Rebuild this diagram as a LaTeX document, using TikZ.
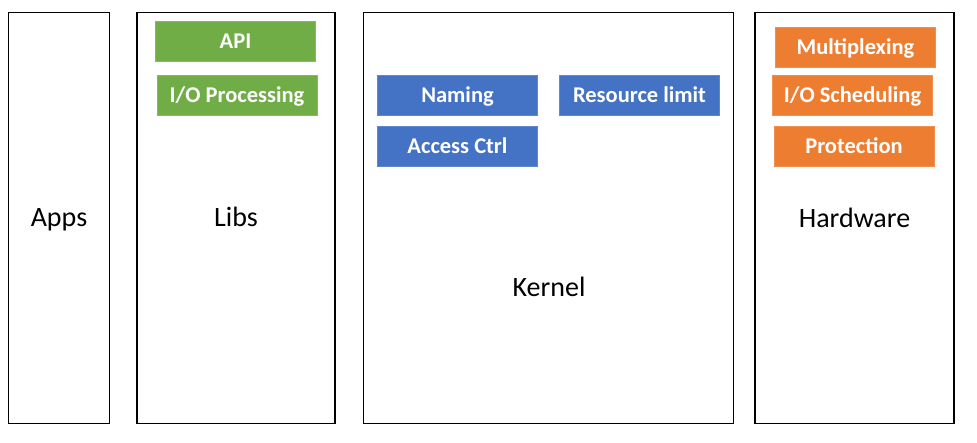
\documentclass[tikz,border=0pt]{standalone}
\usepackage{fontspec}
\setmainfont{Carlito}
\definecolor{libgreen}{HTML}{70AD47}
\definecolor{kerblue}{HTML}{4472C4}
\definecolor{hworange}{HTML}{ED7D31}
\begin{document}
\begin{tikzpicture}[x=1pt,y=-1pt,
  bigbox/.style={draw=black, line width=1.8pt, minimum height=411pt, inner sep=0pt},
  biglabel/.style={anchor=base, inner sep=0pt, font=\fontsize{28}{31}\selectfont},
  tag/.style={fill=#1, draw=#1!85!white, line width=0.6pt, text=white,
    minimum width=160pt, minimum height=40pt, inner sep=0pt,
    text height=14.5pt, text depth=0pt,
    font=\bfseries\fontsize{22.5}{24}\selectfont}]
\useasboundingbox (0,0) rectangle (977,443);
\fill[white] (0,0) rectangle (977,443);
% big layers
\node[bigbox, minimum width=101pt] (apps) at (59,218) {};
\node[bigbox, minimum width=198pt] (libs) at (236,218) {};
\node[bigbox, minimum width=370pt] (kernel) at (548.5,218) {};
\node[bigbox, minimum width=199pt] (hw) at (854.5,218) {};
% layer labels
\node[biglabel] (appsl) at (59,227) {Apps};
\node[biglabel] (libsl) at (236,227) {Libs};
\node[biglabel] (kernell) at (549,297) {Kernel};
\node[biglabel] (hwl) at (854.5,227.5) {Hardware};
% libs tags
\node[tag=libgreen] (api) at (235.5,41) {API};
\node[tag=libgreen] (iop) at (237,95) {I/O Processing};
% kernel tags
\node[tag=kerblue] (naming) at (457.5,95) {Naming};
\node[tag=kerblue] (reslim) at (639.5,95) {Resource limit};
\node[tag=kerblue] (acc) at (457.5,146) {Access Ctrl};
% hardware tags
\node[tag=hworange] (mux) at (855.5,47) {Multiplexing};
\node[tag=hworange] (iosch) at (852.5,95) {I/O Scheduling};
\node[tag=hworange] (prot) at (854,146) {Protection};
\end{tikzpicture}
\end{document}
